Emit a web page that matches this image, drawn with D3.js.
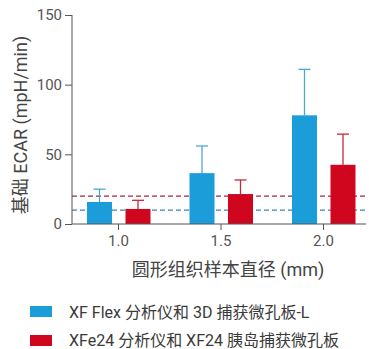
<!DOCTYPE html>
<html><head><meta charset="utf-8">
<script src="https://cdn.jsdelivr.net/npm/d3@7"></script>
<style>body{margin:0;background:#fff}svg{display:block}text{font-family:Roboto,"Noto Sans CJK SC",sans-serif}</style>
</head><body>
<script>
const categories = ["1.0", "1.5", "2.0"];
const seriesNames = ["XF Flex 分析仪和 3D 捕获微孔板-L", "XFe24 分析仪和 XF24 胰岛捕获微孔板"];
const flexMean = [15.8, 36.5, 78];
const flexErr = [25, 56, 111];
const xfe24Mean = [10.8, 21.5, 42.5];
const xfe24Err = [17, 31.6, 64.5];
const baselines = [10, 20];
const yTicks = [0, 50, 100, 150];
const colors = ["#1a9dd9", "#d0061f"];
const errColors = ["#4aa8d8", "#c8283a"];

const W = 369, H = 349;
const svg = d3.select("body").append("svg").attr("width", W).attr("height", H);
const y = d3.scaleLinear().domain([0, 150]).range([224, 15]);
const x = d3.scalePoint().domain(categories).range([118, 323]);
const x0 = 72, x1 = 366;

// dashed baselines, behind the bars
svg.selectAll(".base").data(baselines).join("line")
  .attr("x1", x0).attr("x2", x1)
  .attr("y1", d => y(d)).attr("y2", d => y(d))
  .attr("stroke", (d, i) => i === 0 ? "#3f80bb" : "#a02a40")
  .attr("stroke-width", 1.2).attr("stroke-dasharray", "5,3");

const series = [
  {mean: flexMean, err: flexErr, off: -18.5},
  {mean: xfe24Mean, err: xfe24Err, off: 20}
];
const bw = 25;
series.forEach((s, si) => {
  const g = svg.append("g");
  g.selectAll("line.err").data(categories).join("line")
    .attr("x1", d => x(d) + s.off).attr("x2", d => x(d) + s.off)
    .attr("y1", (d, i) => y(s.mean[i])).attr("y2", (d, i) => y(s.err[i]))
    .attr("stroke", errColors[si]).attr("stroke-width", 1.3);
  g.selectAll("line.cap").data(categories).join("line")
    .attr("x1", d => x(d) + s.off - 6).attr("x2", d => x(d) + s.off + 6)
    .attr("y1", (d, i) => y(s.err[i])).attr("y2", (d, i) => y(s.err[i]))
    .attr("stroke", errColors[si]).attr("stroke-width", 1.3);
  g.selectAll("rect").data(categories).join("rect")
    .attr("x", d => x(d) + s.off - bw / 2).attr("width", bw)
    .attr("y", (d, i) => y(s.mean[i])).attr("height", (d, i) => y(0) - y(s.mean[i]))
    .attr("fill", colors[si]);
});

const axisColor = "#555";
const yAxis = svg.append("g").attr("transform", `translate(${x0},0)`)
  .call(d3.axisLeft(y).tickValues(yTicks).tickSize(7).tickPadding(3));
yAxis.select(".domain").attr("stroke", axisColor).attr("d", `M0,${y(150)}V${y(0)}`);
yAxis.selectAll(".tick line").attr("stroke", axisColor);
yAxis.selectAll(".tick text").attr("fill", "#555").attr("font-size", 15);

const xAxis = svg.append("g").attr("transform", `translate(0,${y(0)})`)
  .call(d3.axisBottom(x).tickSize(6).tickPadding(5));
xAxis.select(".domain").attr("stroke", axisColor).attr("d", `M${x0},0H${x1}`);
xAxis.selectAll(".tick line").attr("stroke", axisColor);
xAxis.selectAll(".tick text").attr("fill", "#555").attr("font-size", 15);

svg.append("text").attr("x", 228).attr("y", 276).attr("text-anchor", "middle")
  .attr("font-size", 18).attr("fill", "#444").text("圆形组织样本直径 (mm)");
svg.append("text").attr("transform", "translate(27,125) rotate(-90)").attr("text-anchor", "middle")
  .attr("font-size", 18).attr("fill", "#444").text("基础 ECAR (mpH/min)");

const leg = svg.append("g");
seriesNames.forEach((n, i) => {
  leg.append("rect").attr("x", 30).attr("y", 306 + i * 29).attr("width", 22).attr("height", 11).attr("fill", colors[i]);
  leg.append("text").attr("x", 69).attr("y", 318 + i * 28).attr("font-size", 16).attr("fill", "#3a3a3a").text(n);
});
</script>
</body></html>
